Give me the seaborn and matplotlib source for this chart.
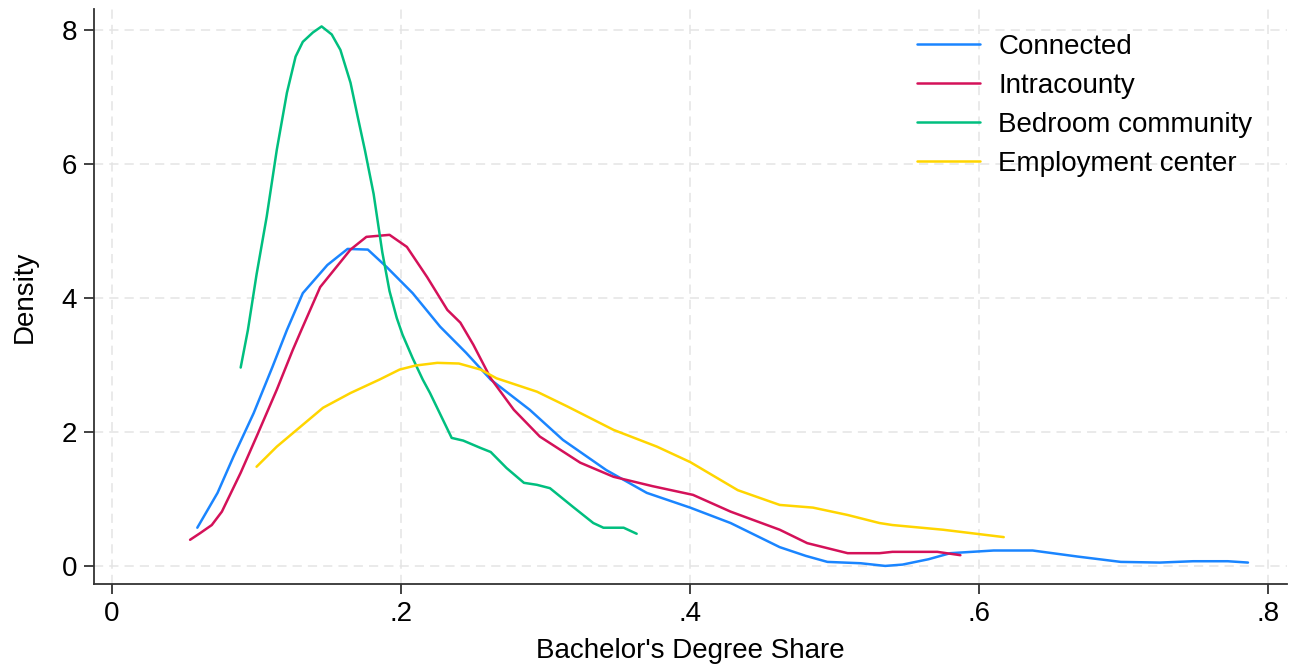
import matplotlib
matplotlib.use("Agg")
import matplotlib.pyplot as plt
import numpy as np
import pandas as pd
import seaborn as sns

# Kernel density curves of bachelor's degree share by commuting-zone type
connected_x = [0.059, 0.073, 0.084, 0.098, 0.111, 0.121, 0.132, 0.149, 0.163, 0.177,
               0.190, 0.208, 0.227, 0.245, 0.262, 0.289, 0.312, 0.342, 0.370, 0.400,
               0.428, 0.462, 0.480, 0.495, 0.518, 0.535, 0.547, 0.565, 0.580, 0.610,
               0.637, 0.668, 0.698, 0.725, 0.748, 0.772, 0.786]
connected_y = [0.57, 1.09, 1.63, 2.28, 2.97, 3.52, 4.07, 4.49, 4.73, 4.72,
               4.46, 4.07, 3.57, 3.18, 2.78, 2.33, 1.88, 1.43, 1.09, 0.87,
               0.64, 0.28, 0.15, 0.06, 0.04, 0.00, 0.02, 0.10, 0.19, 0.23,
               0.23, 0.14, 0.06, 0.05, 0.07, 0.07, 0.05]

intracounty_x = [0.054, 0.061, 0.069, 0.076, 0.089, 0.100, 0.114, 0.125, 0.131, 0.144,
                 0.165, 0.176, 0.192, 0.204, 0.218, 0.232, 0.241, 0.250, 0.262, 0.278,
                 0.296, 0.324, 0.347, 0.374, 0.402, 0.428, 0.462, 0.481, 0.509, 0.531,
                 0.540, 0.571, 0.587]
intracounty_y = [0.39, 0.49, 0.61, 0.81, 1.39, 1.93, 2.63, 3.22, 3.52, 4.16,
                 4.72, 4.91, 4.94, 4.76, 4.31, 3.82, 3.63, 3.30, 2.80, 2.33,
                 1.93, 1.54, 1.33, 1.19, 1.06, 0.81, 0.54, 0.34, 0.19, 0.19,
                 0.21, 0.21, 0.16]

bedroom_x = [0.089, 0.094, 0.100, 0.107, 0.114, 0.121, 0.127, 0.132, 0.139, 0.145,
             0.152, 0.158, 0.165, 0.170, 0.175, 0.181, 0.187, 0.192, 0.197, 0.201,
             0.208, 0.215, 0.220, 0.235, 0.243, 0.255, 0.262, 0.273, 0.285, 0.294,
             0.303, 0.319, 0.333, 0.340, 0.354, 0.363]
bedroom_y = [2.96, 3.52, 4.35, 5.21, 6.21, 7.06, 7.60, 7.82, 7.96, 8.05,
             7.93, 7.70, 7.21, 6.70, 6.20, 5.55, 4.68, 4.10, 3.70, 3.45,
             3.10, 2.78, 2.58, 1.91, 1.87, 1.76, 1.70, 1.46, 1.24, 1.21,
             1.16, 0.88, 0.64, 0.57, 0.57, 0.48]

employment_x = [0.100, 0.114, 0.130, 0.146, 0.165, 0.185, 0.199, 0.210, 0.225, 0.240,
                0.255, 0.266, 0.294, 0.315, 0.347, 0.377, 0.400, 0.433, 0.462, 0.485,
                0.509, 0.531, 0.540, 0.575, 0.617]
employment_y = [1.48, 1.78, 2.07, 2.36, 2.58, 2.78, 2.93, 2.99, 3.03, 3.02,
                2.93, 2.80, 2.60, 2.38, 2.03, 1.78, 1.55, 1.13, 0.91, 0.87,
                0.76, 0.64, 0.61, 0.54, 0.43]

groups = ["Connected", "Intracounty", "Bedroom community", "Employment center"]
colors = ["#1a85ff", "#d41159", "#00bf7f", "#ffd500"]
x_ticks = [0, 0.2, 0.4, 0.6, 0.8]
x_tick_labels = ["0", ".2", ".4", ".6", ".8"]
y_ticks = [0, 2, 4, 6, 8]

frames = []
for name, xs, ys in zip(groups,
                        [connected_x, intracounty_x, bedroom_x, employment_x],
                        [connected_y, intracounty_y, bedroom_y, employment_y]):
    frames.append(pd.DataFrame({"share": xs, "density": ys, "group": name}))
df = pd.concat(frames, ignore_index=True)

sns.set_theme(style="ticks")
plt.rcParams["font.family"] = ["Liberation Sans", "DejaVu Sans"]

fig = plt.figure(figsize=(12.91, 6.66), dpi=100)
ax = fig.add_axes([0.0728, 0.1231, 0.9241, 0.8634])

sns.lineplot(data=df, x="share", y="density", hue="group", hue_order=groups,
             palette=colors, sort=False, estimator=None, linewidth=1.8, ax=ax)

ax.set_xlim(-0.0125, 0.813)
ax.set_ylim(-0.27, 8.31)
ax.set_xticks(x_ticks)
ax.set_xticklabels(x_tick_labels)
ax.set_yticks(y_ticks)

ax.grid(True, linestyle=(0, (6, 4)), color="#e4e4e4", linewidth=1.1)
ax.set_axisbelow(True)

for side in ["top", "right"]:
    ax.spines[side].set_visible(False)
for side in ["left", "bottom"]:
    ax.spines[side].set_color("#333333")
    ax.spines[side].set_linewidth(1.3)

ax.tick_params(axis="both", labelsize=20, labelcolor="#000000", length=7, width=1.3,
               direction="out", pad=5, color="#333333")

ax.set_xlabel("Bachelor's Degree Share", fontsize=20, labelpad=8.5, color="#000000")
ax.set_ylabel("Density", fontsize=20, labelpad=17, color="#000000")

leg = ax.legend(loc="upper left", bbox_to_anchor=(0.69, 0.957), frameon=False,
                fontsize=20, handlelength=2.27, handletextpad=0.65,
                labelspacing=0.47, borderpad=0, borderaxespad=0)
for text in leg.get_texts():
    text.set_color("#000000")
for line in leg.get_lines():
    line.set_linewidth(1.8)

fig.savefig("out.png", dpi=100)
